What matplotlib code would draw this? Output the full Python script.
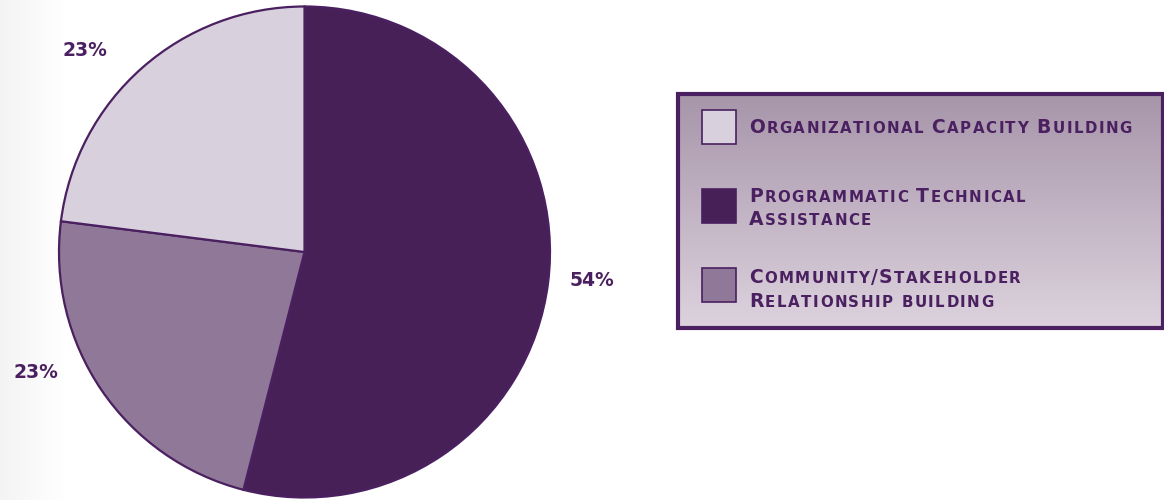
import matplotlib
matplotlib.use("Agg")
from matplotlib import pyplot as plt
from matplotlib.patches import Rectangle
import numpy as np

# data
categories = ["Programmatic Technical\nAssistance",
              "Community/Stakeholder\nRelationship building",
              "Organizational Capacity Building"]
shares = [54, 23, 23]
slice_colors = ["#482058", "#907898", "#d9d0de"]

# legend order as shown in the box
legend_order = [2, 0, 1]

dark = "#4a2060"

fig = plt.figure(figsize=(11.64, 5), dpi=100)
ax = fig.add_axes([0, 0, 1, 1])

# faint grey fade on the left edge
fade = np.linspace(0.945, 1.0, 66) ** 0.8
grad = np.dstack([fade, fade * 0.995 + 0.005, fade * 0.99 + 0.01])[0][None, :, :]
grad = np.clip(grad, 0, 1)
ax.imshow(grad, extent=(0, 66, 0, 500), aspect="auto", zorder=0)

# pie, clockwise from 12 o'clock
ax.pie(shares, colors=slice_colors, startangle=90, counterclock=False,
       center=(304.5, 248), radius=245.5, frame=True,
       wedgeprops=dict(edgecolor=dark, linewidth=1.6))

label_pos = [(592, 220), (36, 128), (85, 450)]   # (x, y) for each share label
for val, (x, y) in zip(shares, label_pos):
    ax.text(x, y, f"{val}%", color=dark, fontsize=13.5, fontweight="bold",
            ha="center", va="center")

# legend box with vertical gradient
top = np.array([0.655, 0.585, 0.665])
bottom = np.array([0.865, 0.825, 0.870])
t = np.linspace(0, 1, 200)[:, None]
box = (top * (1 - t) + bottom * t)[:, None, :]
ax.imshow(box, extent=(678, 1163, 172, 406), aspect="auto", zorder=1)
ax.add_patch(Rectangle((678, 172), 485, 234, fill=False, edgecolor=dark,
                       linewidth=3, zorder=3))

renderer = fig.canvas.get_renderer()


def small_caps(x, y, s):
    # fake small caps: capitals big, lower-case letters as small capitals
    for ch in s:
        if ch == " ":
            x += 7
            continue
        size = 13.5 if not ch.islower() else 10.8
        txt = ax.text(x, y, ch.upper(), fontsize=size, fontweight="bold",
                      color=dark, ha="left", va="baseline", zorder=4)
        x += txt.get_window_extent(renderer).width + 1.5


square_tops = [110, 189, 268]
baselines = [[133], [202, 225], [283, 307]]
for k, idx in enumerate(legend_order):
    y0 = square_tops[k]
    ax.add_patch(Rectangle((702, 500 - y0 - 34), 34, 34,
                           facecolor=slice_colors[idx], edgecolor=dark,
                           linewidth=1.2, zorder=4))
    for line, b in zip(categories[idx].split("\n"), baselines[k]):
        small_caps(749, 500 - b, line)

ax.set_xlim(0, 1164)
ax.set_ylim(0, 500)
ax.axis("off")

plt.savefig("out.png", dpi=100)
